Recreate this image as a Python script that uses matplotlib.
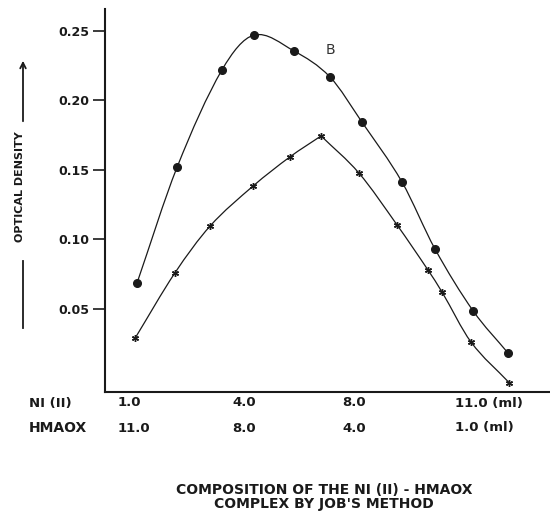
import matplotlib
matplotlib.use("Agg")
import matplotlib.pyplot as plt
import numpy as np
from matplotlib.path import Path
from matplotlib.patches import PathPatch
from matplotlib.lines import Line2D

# Données (Ni(II) en ml, densité optique)
b_x = [1.0, 2.08, 3.29, 4.15, 5.23, 6.2, 7.06, 8.14, 9.03, 10.06, 11.0]
b_y = [0.0687, 0.152, 0.222, 0.247, 0.2356, 0.2169, 0.1845, 0.1414, 0.0932, 0.0486, 0.0183]

a_x = [0.95, 2.02, 2.97, 4.13, 5.12, 5.96, 6.98, 8.01, 8.84, 9.22, 10.0, 11.03]
a_y = [0.0291, 0.0759, 0.1097, 0.1385, 0.1594, 0.1745, 0.1478, 0.1104, 0.0781, 0.0622, 0.0263, -0.003]
a_peak = 5  # pointe anguleuse de la courbe inférieure

y_ticks = [0.05, 0.10, 0.15, 0.20, 0.25]
y_labels = ["0.05", "0.10", "0.15", "0.20", "0.25"]
ni_labels = ["1.0", "4.0", "8.0", "11.0 (ml)"]
hmaox_labels = ["11.0", "8.0", "4.0", "1.0 (ml)"]

W, H = 550, 514
ink = "#1a1a1a"


def smooth_path(xs, ys):
    # courbe de Hermite (pentes par différences finies) -> segments Bezier
    x = np.asarray(xs, float)
    y = np.asarray(ys, float)
    n = len(x)
    m = np.empty(n)
    m[0] = (y[1] - y[0]) / (x[1] - x[0])
    m[-1] = (y[-1] - y[-2]) / (x[-1] - x[-2])
    for i in range(1, n - 1):
        m[i] = (y[i + 1] - y[i - 1]) / (x[i + 1] - x[i - 1])
    verts = [(x[0], y[0])]
    codes = [Path.MOVETO]
    for i in range(n - 1):
        dx = x[i + 1] - x[i]
        verts += [(x[i] + dx / 3, y[i] + m[i] * dx / 3),
                  (x[i + 1] - dx / 3, y[i + 1] - m[i + 1] * dx / 3),
                  (x[i + 1], y[i + 1])]
        codes += [Path.CURVE4] * 3
    return Path(verts, codes)


fig = plt.figure(figsize=(W / 100, H / 100), dpi=100)
ax = fig.add_axes([105 / W, 1 - 392 / H, 1 - 105 / W, (392 - 9) / H])
ax.set_xlim(0.137, 12.13)
ax.set_ylim(-0.0097, 0.2658)

for s in ["top", "right"]:
    ax.spines[s].set_visible(False)
for s in ["left", "bottom"]:
    ax.spines[s].set_linewidth(1.5)
    ax.spines[s].set_color(ink)

ax.set_xticks([])
ax.set_yticks(y_ticks)
ax.set_yticklabels(y_labels, fontsize=9, fontweight="bold", color=ink)
ax.tick_params(axis="y", length=8.5, width=1.2, pad=3, color=ink)

# Courbe B (points pleins)
ax.add_patch(PathPatch(smooth_path(b_x, b_y), fill=False, lw=0.9, ec=ink))
ax.plot(b_x, b_y, "o", ms=5.5, color=ink, ls="none")

# Courbe inférieure (croix)
ax.add_patch(PathPatch(smooth_path(a_x[:a_peak + 1], a_y[:a_peak + 1]), fill=False, lw=0.9, ec=ink))
ax.add_patch(PathPatch(smooth_path(a_x[a_peak:], a_y[a_peak:]), fill=False, lw=0.9, ec=ink))
ax.plot(a_x, a_y, marker=(6, 2, 0), ms=5, mew=1, color=ink, ls="none", clip_on=False)

ax.text(330 / W, 1 - 50 / H, "B", transform=fig.transFigure, fontsize=10,
        color="#333333", ha="center", va="center")

# Etiquettes de l'axe X (deux lignes)
fig.text(29 / W, 1 - 403 / H, "NI (II)", fontsize=9.5, fontweight="bold", color=ink, va="center")
fig.text(29 / W, 1 - 428 / H, "HMAOX", fontsize=10, fontweight="bold", color=ink, va="center")
for px, lab in zip([118, 232, 342, 455], ni_labels):
    fig.text(px / W, 1 - 403 / H, lab, fontsize=9.5, fontweight="bold", color=ink, va="center")
for px, lab in zip([118, 232, 342, 455], hmaox_labels):
    fig.text(px / W, 1 - 428 / H, lab, fontsize=9.5, fontweight="bold", color=ink, va="center")

# Titre de l'axe Y avec flèche
fig.text(20 / W, 1 - 187 / H, "OPTICAL DENSITY", rotation=90, fontsize=8,
         fontweight="bold", color=ink, ha="center", va="center")
fig.add_artist(Line2D([23 / W, 23 / W], [1 - 261 / H, 1 - 328 / H], lw=1.3, color=ink))
ax.annotate("", xy=(23 / W, 1 - 58 / H), xytext=(23 / W, 1 - 124 / H),
            xycoords="figure fraction", textcoords="figure fraction",
            arrowprops=dict(arrowstyle="->", lw=1.3, color=ink))

# Légende du graphique
fig.text(324 / W, 1 - 497 / H, "COMPOSITION OF THE NI (II) - HMAOX\nCOMPLEX BY JOB'S METHOD",
         fontsize=10, fontweight="bold", color=ink, ha="center", va="center",
         multialignment="center", linespacing=0.95)

fig.savefig("out.png", dpi=100)
